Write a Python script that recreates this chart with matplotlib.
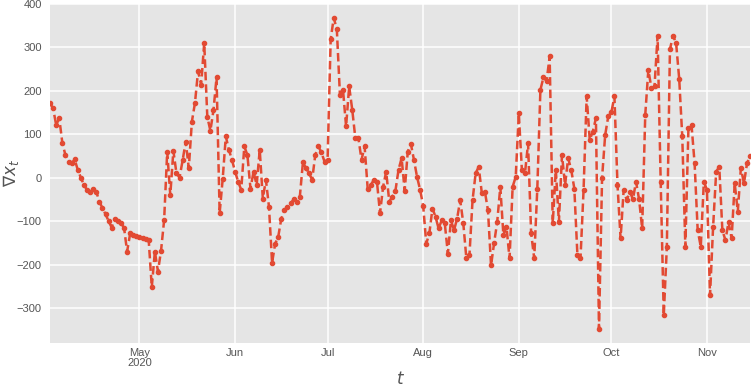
import matplotlib
matplotlib.use("Agg")
import matplotlib.pyplot as plt
import numpy as np
import pandas as pd

start_date = "2020-04-02"
values = [
    171, 160, 121, 137, 80, 52, 35, 33, 42, 18,
    0, -17, -28, -32, -27, -32, -55, -70, -84, -100,
    -115, -94, -99, -105, -115, -170, -128, -132, -135, -137,
    -139, -141, -144, -252, -170, -216, -168, -98, 60, -40,
    62, 10, 0, 40, 83, 22, 129, 172, 245, 214,
    310, 140, 108, 155, 231, -82, -2, 95, 64, 41,
    14, -9, -28, 72, 52, -25, 14, -17, 64, -48,
    -5, -67, -196, -152, -136, -94, -75, -67, -59, -50,
    -55, -44, 35, 22, 10, -5, 52, 72, 58, 37,
    41, 318, 368, 341, 191, 202, 118, 210, 156, 91,
    91, 41, 72, -25, -17, -5, -9, -82, -21, 14,
    -55, -44, -30, 18, 45, -30, 60, 78, 41, 2,
    -28, -65, -152, -128, -71, -90, -117, -98, -105, -175,
    -98, -121, -94, -52, -105, -186, -178, -52, 10, 25,
    -35, -32, -75, -202, -150, -102, -21, -132, -113, -186,
    -21, 2, 148, 18, 10, 79, -128, -186, -25, 202,
    231, 222, 279, -105, 18, -102, 52, -17, 45, 18,
    -25, -178, -186, -28, 187, 87, 106, 137, -348, 0,
    98, 141, 150, 187, -17, -140, -28, -52, -32, -50,
    -9, -50, -117, 145, 248, 206, 210, 327, -9, -317,
    -159, 295, 327, 310, 228, 95, -159, 114, 121, 33,
    -121, -159, -9, -28, -271, -113, 14, 25, -121, -144,
    -102, -140, -13, -78, 22, -13, 33, 50,
]
tick_dates = ["2020-05-01", "2020-06-01", "2020-07-01", "2020-08-01",
              "2020-09-01", "2020-10-01", "2020-11-01"]
tick_labels = ["May\n2020", "Jun", "Jul", "Aug", "Sep", "Oct", "Nov"]
y_ticks = [-300, -200, -100, 0, 100, 200, 300, 400]

dates = pd.date_range(start_date, periods=len(values), freq="D")

plt.style.use("ggplot")
plt.rcParams["font.family"] = ["Liberation Sans", "DejaVu Sans"]

fig = plt.figure(figsize=(7.52, 3.86), dpi=100)
ax = fig.add_axes([0.0665, 0.112, 0.931, 0.878])
ax.plot(dates, values, color="#E24A33", linestyle=(0, (3.4, 1.6)),
        linewidth=1.8, marker="o", markersize=3.0)

ax.set_xlim(dates[0], dates[-1])
ax.set_ylim(-380, 400)
ax.set_yticks(y_ticks)
ax.set_yticklabels([str(v).replace("-", "\u2212") for v in y_ticks])
ax.set_xticks(pd.to_datetime(tick_dates))
ax.set_xticklabels(tick_labels, linespacing=0.95)
ax.minorticks_off()
ax.tick_params(axis="y", length=0, labelsize=8, colors="#555555", pad=6)
ax.tick_params(axis="x", length=0, labelsize=8, colors="#555555", pad=4)
ax.grid(True, color="white", linewidth=1.1)
ax.set_facecolor("#E5E5E5")
for s in ax.spines.values():
    s.set_visible(False)

ax.set_xlabel("$t$", fontsize=12, color="#555555", va="center")
ax.xaxis.set_label_coords(0.5, -0.105)
ax.set_ylabel(r"$\nabla x_t$", fontsize=12, color="#555555", va="center")
ax.yaxis.set_label_coords(-0.056, 0.5)

fig.savefig("out.png", dpi=100)
